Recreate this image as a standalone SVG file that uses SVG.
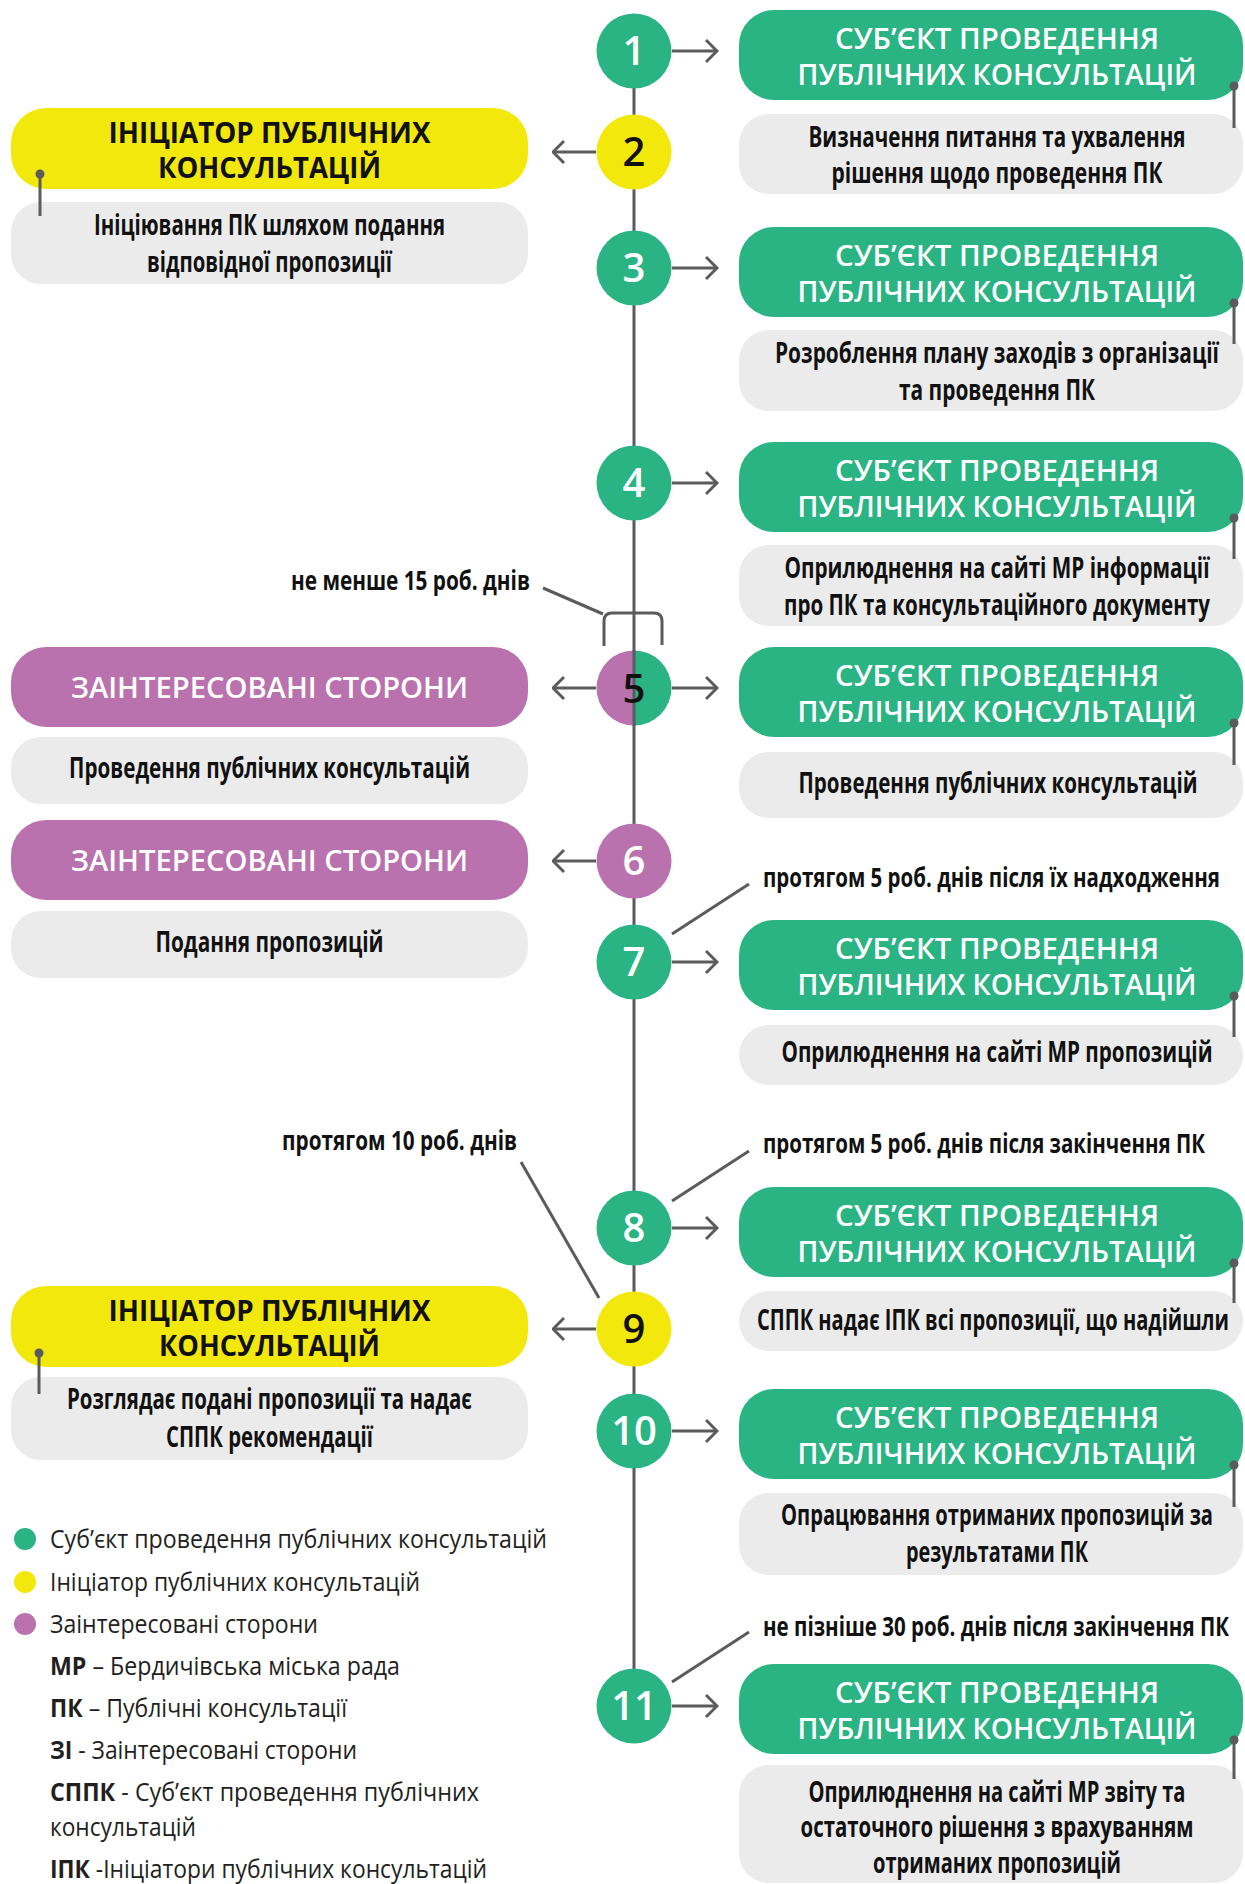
<svg xmlns="http://www.w3.org/2000/svg" width="1245" height="1884" viewBox="0 0 1245 1884">
<defs>
<style>
.bg{fill:#ffffff}
.green{fill:#2ab383}
.yellow{fill:#f3e80c}
.purple{fill:#b972ae}
.gray{fill:#ebebeb}
.ln{stroke:#5b5b5b;stroke-width:3;fill:none}
.dot{fill:#5b5b5b}
.hw{font-family:"Open Sans","DejaVu Sans",sans-serif;font-weight:600;font-size:28px;fill:#ffffff;text-anchor:middle}
.hb{font-family:"Open Sans","DejaVu Sans",sans-serif;font-weight:700;font-size:28px;fill:#111111;text-anchor:middle}
.tb{font-family:"Open Sans","DejaVu Sans",sans-serif;font-weight:700;font-size:28px;fill:#111111;text-anchor:middle}
.an{font-family:"Open Sans","DejaVu Sans",sans-serif;font-weight:700;font-size:26px;fill:#111111}
.num{font-family:"Open Sans","DejaVu Sans",sans-serif;font-weight:600;font-size:40px;text-anchor:middle}
.lg{font-family:"Open Sans","DejaVu Sans",sans-serif;font-weight:400;font-size:25px;fill:#231f20}
.lgb{font-weight:700}
</style>
<marker id="chev" viewBox="0 0 14 26" refX="12.5" refY="13" markerWidth="14" markerHeight="26" markerUnits="userSpaceOnUse" orient="auto">
<path d="M1.5,2 L12.5,13 L1.5,24" fill="none" stroke="#5b5b5b" stroke-width="3"/>
</marker>
</defs>
<rect class="bg" x="0" y="0" width="1245" height="1884"/>

<g id="connectors">
<line class="ln" x1="634" y1="51" x2="634" y2="1706"/>
<path class="ln" d="M672,51 H717" marker-end="url(#chev)"/>
<path class="ln" d="M596,152 H553" marker-end="url(#chev)"/>
<path class="ln" d="M672,268 H717" marker-end="url(#chev)"/>
<path class="ln" d="M672,483 H717" marker-end="url(#chev)"/>
<path class="ln" d="M596,688 H553" marker-end="url(#chev)"/>
<path class="ln" d="M672,688 H717" marker-end="url(#chev)"/>
<path class="ln" d="M596,861 H553" marker-end="url(#chev)"/>
<path class="ln" d="M672,962 H717" marker-end="url(#chev)"/>
<path class="ln" d="M672,1228 H717" marker-end="url(#chev)"/>
<path class="ln" d="M596,1329 H553" marker-end="url(#chev)"/>
<path class="ln" d="M672,1431 H717" marker-end="url(#chev)"/>
<path class="ln" d="M672,1706 H717" marker-end="url(#chev)"/>
<path class="ln" d="M543,588 L603,614"/>
<path class="ln" d="M604,646 V621 Q604,613 612,613 H654 Q662,613 662,621 V645"/>
<path class="ln" d="M672,934 L749,884"/>
<path class="ln" d="M672,1201 L749,1151"/>
<path class="ln" d="M672,1682 L749,1632"/>
<path class="ln" d="M521,1162 L599,1298"/>
</g>

<g id="step1">
<circle class="green" cx="634" cy="51" r="37.5"/>
<text class="num" x="634" y="65" fill="#ffffff">1</text>
<rect class="green" x="739" y="10" width="504" height="90" rx="35"/>
<text class="hw" x="997" y="49" textLength="324" lengthAdjust="spacingAndGlyphs">СУБ’ЄКТ ПРОВЕДЕННЯ</text>
<text class="hw" x="997" y="85" textLength="399" lengthAdjust="spacingAndGlyphs">ПУБЛІЧНИХ КОНСУЛЬТАЦІЙ</text>
<rect class="gray" x="739" y="114" width="504" height="80" rx="30"/>
<text class="tb" transform="matrix(.75 0 0 1 997 147)" x="0" y="0" textLength="502.67" lengthAdjust="spacingAndGlyphs">Визначення питання та ухвалення</text>
<text class="tb" transform="matrix(.75 0 0 1 997 183)" x="0" y="0" textLength="441.33" lengthAdjust="spacingAndGlyphs">рішення щодо проведення ПК</text>
<line class="ln" x1="1234" y1="86" x2="1234" y2="128"/>
<circle class="dot" cx="1234" cy="86" r="4.5"/>
</g>

<g id="step2">
<circle class="yellow" cx="634" cy="152" r="37.5"/>
<text class="num" x="634" y="166" fill="#111111">2</text>
<rect class="yellow" x="11" y="108" width="517" height="81" rx="35"/>
<text class="hb" x="269.5" y="143" textLength="322" lengthAdjust="spacingAndGlyphs">ІНІЦІАТОР ПУБЛІЧНИХ</text>
<text class="hb" x="269.5" y="178" textLength="223" lengthAdjust="spacingAndGlyphs">КОНСУЛЬТАЦІЙ</text>
<rect class="gray" x="11" y="202" width="517" height="82" rx="30"/>
<text class="tb" transform="matrix(.75 0 0 1 269.5 235)" x="0" y="0" textLength="468" lengthAdjust="spacingAndGlyphs">Ініціювання ПК шляхом подання</text>
<text class="tb" transform="matrix(.75 0 0 1 269.5 272)" x="0" y="0" textLength="326.67" lengthAdjust="spacingAndGlyphs">відповідної пропозиції</text>
<line class="ln" x1="40" y1="174" x2="40" y2="216"/>
<circle class="dot" cx="40" cy="174" r="4.5"/>
</g>

<g id="step3">
<circle class="green" cx="634" cy="268" r="37.5"/>
<text class="num" x="634" y="282" fill="#ffffff">3</text>
<rect class="green" x="739" y="227" width="504" height="90" rx="35"/>
<text class="hw" x="997" y="266" textLength="324" lengthAdjust="spacingAndGlyphs">СУБ’ЄКТ ПРОВЕДЕННЯ</text>
<text class="hw" x="997" y="302" textLength="399" lengthAdjust="spacingAndGlyphs">ПУБЛІЧНИХ КОНСУЛЬТАЦІЙ</text>
<rect class="gray" x="739" y="330" width="504" height="81" rx="30"/>
<text class="tb" transform="matrix(.75 0 0 1 997 363)" x="0" y="0" textLength="592" lengthAdjust="spacingAndGlyphs">Розроблення плану заходів з організації</text>
<text class="tb" transform="matrix(.75 0 0 1 997 400)" x="0" y="0" textLength="261.33" lengthAdjust="spacingAndGlyphs">та проведення ПК</text>
<line class="ln" x1="1234" y1="303" x2="1234" y2="344"/>
<circle class="dot" cx="1234" cy="303" r="4.5"/>
</g>

<g id="step4">
<circle class="green" cx="634" cy="483" r="37.5"/>
<text class="num" x="634" y="497" fill="#ffffff">4</text>
<rect class="green" x="739" y="442" width="504" height="90" rx="35"/>
<text class="hw" x="997" y="481" textLength="324" lengthAdjust="spacingAndGlyphs">СУБ’ЄКТ ПРОВЕДЕННЯ</text>
<text class="hw" x="997" y="517" textLength="399" lengthAdjust="spacingAndGlyphs">ПУБЛІЧНИХ КОНСУЛЬТАЦІЙ</text>
<rect class="gray" x="739" y="545" width="504" height="81" rx="30"/>
<text class="tb" transform="matrix(.75 0 0 1 997 578)" x="0" y="0" textLength="566.67" lengthAdjust="spacingAndGlyphs">Оприлюднення на сайті МР інформації</text>
<text class="tb" transform="matrix(.75 0 0 1 997 615)" x="0" y="0" textLength="568" lengthAdjust="spacingAndGlyphs">про ПК та консультаційного документу</text>
<line class="ln" x1="1234" y1="518" x2="1234" y2="559"/>
<circle class="dot" cx="1234" cy="518" r="4.5"/>
</g>

<g id="note15">
<text class="an" transform="matrix(.75 0 0 1 530 590)" x="0" y="0" text-anchor="end" textLength="318.67" lengthAdjust="spacingAndGlyphs">не менше 15 роб. днів</text>
</g>

<g id="step5">
<path class="purple" d="M634,650.5 A37.5,37.5 0 0 0 634,725.5 Z"/>
<path class="green" d="M634,650.5 A37.5,37.5 0 0 1 634,725.5 Z"/>
<line class="ln" x1="634" y1="650" x2="634" y2="726"/>
<text class="num" x="634" y="703" fill="#111111" font-weight="700">5</text>
<rect class="purple" x="11" y="647" width="517" height="80" rx="35"/>
<text class="hw" x="269.5" y="698" textLength="397" lengthAdjust="spacingAndGlyphs">ЗАІНТЕРЕСОВАНІ СТОРОНИ</text>
<rect class="gray" x="11" y="737" width="517" height="67" rx="30"/>
<text class="tb" transform="matrix(.75 0 0 1 269.5 778)" x="0" y="0" textLength="534.67" lengthAdjust="spacingAndGlyphs">Проведення публічних консультацій</text>
<rect class="green" x="739" y="647" width="504" height="90" rx="35"/>
<text class="hw" x="997" y="686" textLength="324" lengthAdjust="spacingAndGlyphs">СУБ’ЄКТ ПРОВЕДЕННЯ</text>
<text class="hw" x="997" y="722" textLength="399" lengthAdjust="spacingAndGlyphs">ПУБЛІЧНИХ КОНСУЛЬТАЦІЙ</text>
<rect class="gray" x="739" y="752" width="504" height="66" rx="30"/>
<text class="tb" transform="matrix(.75 0 0 1 998 793)" x="0" y="0" textLength="532" lengthAdjust="spacingAndGlyphs">Проведення публічних консультацій</text>
<line class="ln" x1="1234" y1="723" x2="1234" y2="765"/>
<circle class="dot" cx="1234" cy="723" r="4.5"/>
</g>

<g id="step6">
<circle class="purple" cx="634" cy="861" r="37.5"/>
<text class="num" x="634" y="875" fill="#ffffff">6</text>
<rect class="purple" x="11" y="820" width="517" height="80" rx="35"/>
<text class="hw" x="269.5" y="871" textLength="397" lengthAdjust="spacingAndGlyphs">ЗАІНТЕРЕСОВАНІ СТОРОНИ</text>
<rect class="gray" x="11" y="911" width="517" height="67" rx="30"/>
<text class="tb" transform="matrix(.75 0 0 1 269.5 952)" x="0" y="0" textLength="304" lengthAdjust="spacingAndGlyphs">Подання пропозицій</text>
</g>

<g id="note7">
<text class="an" transform="matrix(.75 0 0 1 763 887)" x="0" y="0" textLength="609.33" lengthAdjust="spacingAndGlyphs">протягом 5 роб. днів після їх надходження</text>
</g>

<g id="step7">
<circle class="green" cx="634" cy="962" r="37.5"/>
<text class="num" x="634" y="976" fill="#ffffff">7</text>
<rect class="green" x="739" y="920" width="504" height="90" rx="35"/>
<text class="hw" x="997" y="959" textLength="324" lengthAdjust="spacingAndGlyphs">СУБ’ЄКТ ПРОВЕДЕННЯ</text>
<text class="hw" x="997" y="995" textLength="399" lengthAdjust="spacingAndGlyphs">ПУБЛІЧНИХ КОНСУЛЬТАЦІЙ</text>
<rect class="gray" x="739" y="1025" width="504" height="60" rx="30"/>
<text class="tb" transform="matrix(.75 0 0 1 997 1062)" x="0" y="0" textLength="574.67" lengthAdjust="spacingAndGlyphs">Оприлюднення на сайті МР пропозицій</text>
<line class="ln" x1="1234" y1="996" x2="1234" y2="1037"/>
<circle class="dot" cx="1234" cy="996" r="4.5"/>
</g>

<g id="note10">
<text class="an" transform="matrix(.75 0 0 1 517 1150)" x="0" y="0" text-anchor="end" textLength="313.33" lengthAdjust="spacingAndGlyphs">протягом 10 роб. днів</text>
</g>

<g id="note8">
<text class="an" transform="matrix(.75 0 0 1 763 1153)" x="0" y="0" textLength="589.33" lengthAdjust="spacingAndGlyphs">протягом 5 роб. днів після закінчення ПК</text>
</g>

<g id="step8">
<circle class="green" cx="634" cy="1228" r="37.5"/>
<text class="num" x="634" y="1242" fill="#ffffff">8</text>
<rect class="green" x="739" y="1187" width="504" height="90" rx="35"/>
<text class="hw" x="997" y="1226" textLength="324" lengthAdjust="spacingAndGlyphs">СУБ’ЄКТ ПРОВЕДЕННЯ</text>
<text class="hw" x="997" y="1262" textLength="399" lengthAdjust="spacingAndGlyphs">ПУБЛІЧНИХ КОНСУЛЬТАЦІЙ</text>
<rect class="gray" x="739" y="1291" width="504" height="60" rx="30"/>
<text class="tb" transform="matrix(.68 0 0 1 993 1330)" x="0" y="0" textLength="694.12" lengthAdjust="spacingAndGlyphs">СППК надає ІПК всі пропозиції, що надійшли</text>
<line class="ln" x1="1234" y1="1263" x2="1234" y2="1303"/>
<circle class="dot" cx="1234" cy="1263" r="4.5"/>
</g>

<g id="step9">
<circle class="yellow" cx="634" cy="1329" r="37.5"/>
<text class="num" x="634" y="1343" fill="#111111">9</text>
<rect class="yellow" x="11" y="1286" width="517" height="81" rx="35"/>
<text class="hb" x="269.5" y="1321" textLength="322" lengthAdjust="spacingAndGlyphs">ІНІЦІАТОР ПУБЛІЧНИХ</text>
<text class="hb" x="269.5" y="1356" textLength="221" lengthAdjust="spacingAndGlyphs">КОНСУЛЬТАЦІЙ</text>
<rect class="gray" x="11" y="1377" width="517" height="83" rx="30"/>
<text class="tb" transform="matrix(.75 0 0 1 269.5 1409)" x="0" y="0" textLength="540" lengthAdjust="spacingAndGlyphs">Розглядає подані пропозиції та надає</text>
<text class="tb" transform="matrix(.75 0 0 1 269.5 1447)" x="0" y="0" textLength="276" lengthAdjust="spacingAndGlyphs">СППК рекомендації</text>
<line class="ln" x1="39" y1="1353" x2="39" y2="1394"/>
<circle class="dot" cx="39" cy="1353" r="4.5"/>
</g>

<g id="step10">
<circle class="green" cx="634" cy="1431" r="37.5"/>
<text class="num" x="634" y="1445" fill="#ffffff">10</text>
<rect class="green" x="739" y="1389" width="504" height="90" rx="35"/>
<text class="hw" x="997" y="1428" textLength="324" lengthAdjust="spacingAndGlyphs">СУБ’ЄКТ ПРОВЕДЕННЯ</text>
<text class="hw" x="997" y="1464" textLength="399" lengthAdjust="spacingAndGlyphs">ПУБЛІЧНИХ КОНСУЛЬТАЦІЙ</text>
<rect class="gray" x="739" y="1493" width="504" height="82" rx="30"/>
<text class="tb" transform="matrix(.75 0 0 1 997 1525)" x="0" y="0" textLength="576" lengthAdjust="spacingAndGlyphs">Опрацювання отриманих пропозицій за</text>
<text class="tb" transform="matrix(.75 0 0 1 997 1562)" x="0" y="0" textLength="242.67" lengthAdjust="spacingAndGlyphs">результатами ПК</text>
<line class="ln" x1="1234" y1="1465" x2="1234" y2="1507"/>
<circle class="dot" cx="1234" cy="1465" r="4.5"/>
</g>

<g id="note11">
<text class="an" transform="matrix(.75 0 0 1 763 1636)" x="0" y="0" textLength="621.33" lengthAdjust="spacingAndGlyphs">не пізніше 30 роб. днів після закінчення ПК</text>
</g>

<g id="step11">
<circle class="green" cx="634" cy="1706" r="37.5"/>
<text class="num" x="634" y="1720" fill="#ffffff">11</text>
<rect class="green" x="739" y="1664" width="504" height="90" rx="35"/>
<text class="hw" x="997" y="1703" textLength="324" lengthAdjust="spacingAndGlyphs">СУБ’ЄКТ ПРОВЕДЕННЯ</text>
<text class="hw" x="997" y="1739" textLength="399" lengthAdjust="spacingAndGlyphs">ПУБЛІЧНИХ КОНСУЛЬТАЦІЙ</text>
<rect class="gray" x="739" y="1765" width="504" height="118" rx="30"/>
<text class="tb" transform="matrix(.75 0 0 1 997 1802)" x="0" y="0" textLength="502.67" lengthAdjust="spacingAndGlyphs">Оприлюднення на сайті МР звіту та</text>
<text class="tb" transform="matrix(.75 0 0 1 997 1837)" x="0" y="0" textLength="524" lengthAdjust="spacingAndGlyphs">остаточного рішення з врахуванням</text>
<text class="tb" transform="matrix(.75 0 0 1 997 1873)" x="0" y="0" textLength="330.67" lengthAdjust="spacingAndGlyphs">отриманих пропозицій</text>
<line class="ln" x1="1234" y1="1740" x2="1234" y2="1779"/>
<circle class="dot" cx="1234" cy="1740" r="4.5"/>
</g>

<g id="legend">
<circle class="green" cx="25" cy="1539" r="11"/>
<circle class="yellow" cx="25" cy="1582" r="11"/>
<circle class="purple" cx="25" cy="1624" r="11"/>
<text class="lg" x="50" y="1548" textLength="497" lengthAdjust="spacingAndGlyphs">Суб’єкт проведення публічних консультацій</text>
<text class="lg" x="50" y="1591" textLength="370" lengthAdjust="spacingAndGlyphs">Ініціатор публічних консультацій</text>
<text class="lg" x="50" y="1633" textLength="268" lengthAdjust="spacingAndGlyphs">Заінтересовані сторони</text>
<text class="lg" x="50" y="1675" textLength="350" lengthAdjust="spacingAndGlyphs"><tspan class="lgb">МР</tspan> – Бердичівська міська рада</text>
<text class="lg" x="50" y="1717" textLength="297" lengthAdjust="spacingAndGlyphs"><tspan class="lgb">ПК</tspan> – Публічні консультації</text>
<text class="lg" x="50" y="1759" textLength="307" lengthAdjust="spacingAndGlyphs"><tspan class="lgb">ЗІ</tspan> - Заінтересовані сторони</text>
<text class="lg" x="50" y="1801" textLength="429" lengthAdjust="spacingAndGlyphs"><tspan class="lgb">СППК</tspan> - Суб’єкт проведення публічних</text>
<text class="lg" x="50" y="1836" textLength="146" lengthAdjust="spacingAndGlyphs">консультацій</text>
<text class="lg" x="50" y="1878" textLength="437" lengthAdjust="spacingAndGlyphs"><tspan class="lgb">ІПК</tspan> -Ініціатори публічних консультацій</text>
</g>
</svg>
